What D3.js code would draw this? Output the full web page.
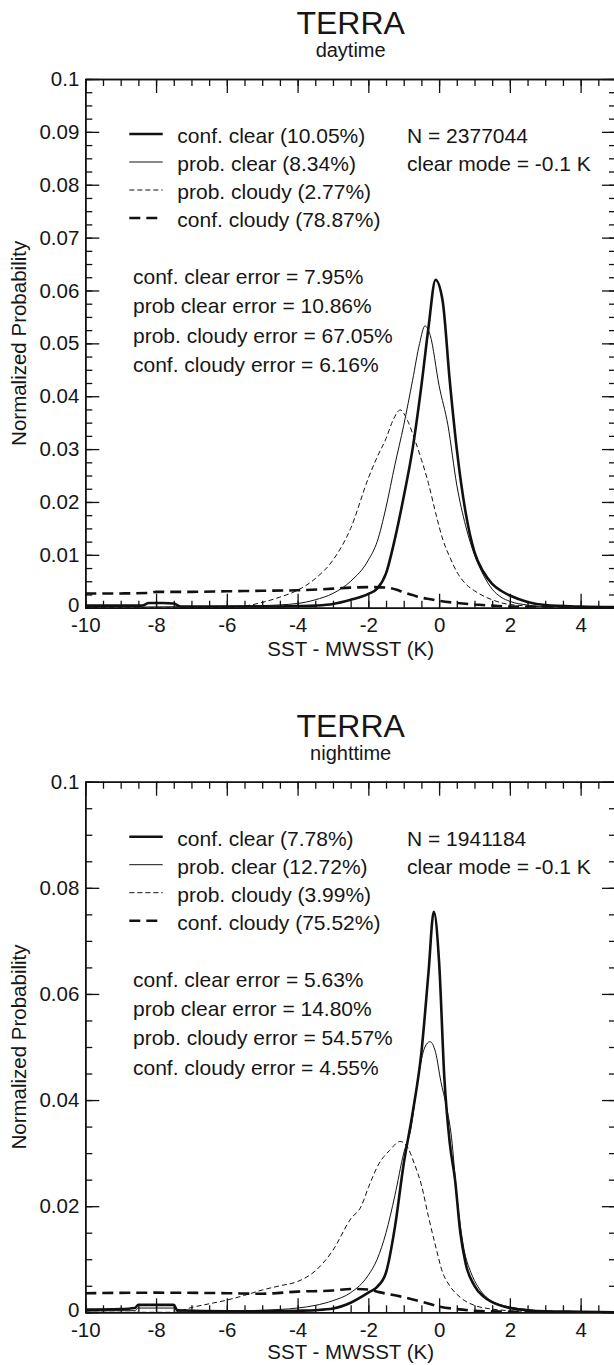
<!DOCTYPE html>
<meta charset="utf-8">
<script src="https://d3js.org/d3.v7.min.js"></script>
<style>
  body { margin: 0; background: #fff; }
  text { font-family: "Liberation Sans", Arial, Helvetica, sans-serif; fill: #161616; }
</style>
<svg id="chart" width="614" height="1365"></svg>
<script>

// ---- data ----
var xTickValues = [-10, -8, -6, -4, -2, 0, 2, 4];
var dayYTicks = [0, 0.01, 0.02, 0.03, 0.04, 0.05, 0.06, 0.07, 0.08, 0.09, 0.1];
var nightYTicks = [0, 0.02, 0.04, 0.06, 0.08, 0.1];

var seriesNames = ["conf. clear", "prob. clear", "prob. cloudy", "conf. cloudy"];
var dayShares = ["10.05%", "8.34%", "2.77%", "78.87%"];
var nightShares = ["7.78%", "12.72%", "3.99%", "75.52%"];
var errorNames = ["conf. clear error", "prob clear error", "prob. cloudy error", "conf. cloudy error"];
var dayErrors = ["7.95%", "10.86%", "67.05%", "6.16%"];
var nightErrors = ["5.63%", "14.80%", "54.57%", "4.55%"];
var dayN = "2377044", nightN = "1941184";
var dayMode = "-0.1", nightMode = "-0.1";

// daytime curves
var dayConfClearX = [-10, -9, -8.4, -8.2, -7.8, -7.5, -7.3, -6, -5, -4, -3.5, -3, -2.5, -2, -1.75, -1.5, -1.25, -1, -0.75, -0.5, -0.3, -0.1, 0.1, 0.3, 0.5, 0.75, 1, 1.25, 1.5, 1.75, 2, 2.5, 3, 4, 5];
var dayConfClearY = [0.0004, 0.0004, 0.0004, 0.0009, 0.0009, 0.0008, 0.0002, 0.0002, 0.0002, 0.0003, 0.0004, 0.0007, 0.0015, 0.0026, 0.0036, 0.0065, 0.013, 0.021, 0.030, 0.042, 0.053, 0.062, 0.058, 0.043, 0.030, 0.018, 0.0105, 0.0068, 0.0045, 0.0032, 0.0023, 0.0011, 0.0005, 0.0002, 0.0001];
var dayProbClearX = [-10, -7, -5, -4, -3.5, -3, -2.5, -2, -1.75, -1.5, -1.25, -1, -0.75, -0.55, -0.4, -0.25, 0, 0.25, 0.5, 0.75, 1, 1.25, 1.5, 1.75, 2, 2.5, 3, 4, 5];
var dayProbClearY = [0.0001, 0.0002, 0.0004, 0.0008, 0.0015, 0.0027, 0.0050, 0.0090, 0.0125, 0.0190, 0.0270, 0.0345, 0.0430, 0.0500, 0.0533, 0.0515, 0.0420, 0.0345, 0.0232, 0.0155, 0.0100, 0.0062, 0.0035, 0.0020, 0.0012, 0.0005, 0.0002, 0.0001, 0.0001];
var dayProbCloudyX = [-10, -6, -5.5, -5, -4.5, -4, -3.5, -3, -2.5, -2, -1.75, -1.5, -1.3, -1.1, -0.9, -0.7, -0.5, -0.3, -0.1, 0.1, 0.3, 0.5, 0.75, 1, 1.5, 2, 3, 5];
var dayProbCloudyY = [0, 0, 0.0003, 0.0010, 0.0020, 0.0033, 0.0055, 0.0090, 0.0150, 0.0245, 0.0285, 0.0320, 0.0355, 0.0374, 0.0355, 0.0320, 0.0280, 0.0235, 0.0180, 0.0130, 0.0096, 0.0068, 0.0045, 0.0032, 0.0015, 0.0006, 0.0002, 0];
var dayConfCloudyX = [-10, -9, -8.2, -8, -7, -6, -5, -4, -3, -2.5, -2, -1.5, -1.2, -1, -0.75, -0.5, -0.25, 0, 0.5, 1, 1.5, 2, 3, 4, 5];
var dayConfCloudyY = [0.0027, 0.0027, 0.0028, 0.0030, 0.0030, 0.0031, 0.0032, 0.0033, 0.0036, 0.0038, 0.0039, 0.0038, 0.0034, 0.0029, 0.0024, 0.0019, 0.0016, 0.0013, 0.0009, 0.0006, 0.0004, 0.0002, 0.0001, 0, 0];

// nighttime curves
var nightConfClearX = [-10, -9, -8.6, -8.5, -7.5, -7.4, -6, -5, -4, -3.5, -3, -2.5, -2, -1.75, -1.5, -1.25, -1, -0.75, -0.5, -0.3, -0.15, 0, 0.15, 0.3, 0.45, 0.6, 0.75, 1, 1.25, 1.5, 2, 2.5, 3, 4, 5];
var nightConfClearY = [0.0005, 0.0006, 0.0008, 0.0014, 0.0014, 0.0004, 0.0002, 0.0002, 0.0003, 0.0004, 0.0007, 0.0018, 0.0037, 0.0048, 0.0075, 0.016, 0.028, 0.0375, 0.049, 0.064, 0.0755, 0.066, 0.044, 0.032, 0.025, 0.015, 0.0092, 0.0050, 0.0030, 0.0019, 0.0008, 0.0004, 0.0002, 0.0001, 0];
var nightProbClearX = [-10, -9, -8.6, -8.5, -7.5, -7.4, -6, -5, -4, -3.5, -3, -2.5, -2, -1.75, -1.5, -1.25, -1, -0.8, -0.6, -0.4, -0.26, -0.1, 0.05, 0.2, 0.35, 0.5, 0.7, 0.9, 1.1, 1.4, 1.7, 2, 2.5, 3, 4, 5];
var nightProbClearY = [0.0002, 0.0003, 0.0003, 0.0008, 0.0008, 0.0002, 0.0002, 0.0004, 0.0008, 0.0013, 0.0022, 0.0037, 0.0070, 0.0100, 0.0150, 0.0220, 0.0300, 0.0345, 0.0440, 0.0500, 0.0510, 0.0490, 0.0435, 0.0390, 0.0330, 0.0220, 0.0120, 0.0075, 0.0048, 0.0025, 0.0015, 0.0010, 0.0005, 0.0002, 0.0001, 0];
var nightProbCloudyX = [-10, -7.5, -7, -6.5, -6, -5.5, -5, -4.5, -4, -3.5, -3, -2.5, -2.2, -2, -1.7, -1.4, -1.1, -0.9, -0.7, -0.5, -0.3, -0.1, 0.1, 0.3, 0.6, 1, 1.5, 2, 3, 5];
var nightProbCloudyY = [0, 0, 0.0009, 0.0016, 0.0023, 0.0032, 0.0042, 0.0050, 0.0058, 0.0078, 0.0117, 0.0176, 0.0200, 0.0235, 0.0280, 0.0305, 0.0322, 0.0312, 0.0280, 0.0240, 0.0180, 0.0125, 0.0075, 0.0050, 0.0028, 0.0013, 0.0006, 0.0003, 0.0001, 0];
var nightConfCloudyX = [-10, -8, -6, -5, -4, -3, -2.5, -2, -1.7, -1.1, -0.5, 0, 0.5, 1, 2, 5];
var nightConfCloudyY = [0.0036, 0.0037, 0.0036, 0.0035, 0.0039, 0.0041, 0.0044, 0.0043, 0.0038, 0.0030, 0.0020, 0.0011, 0.0006, 0.0003, 0.0001, 0];

// ---- layout ----
var svg = d3.select("#chart");
var left = 85.3, right = 616;

var x = d3.scaleLinear().domain([-10, 5]).range([left, right]);

var styles = [
  { width: 2.6, dash: null },
  { width: 1, dash: null },
  { width: 1, dash: "5,3" },
  { width: 2.6, dash: "11,6" }
];

function zip(xs, ys) { return xs.map(function(v, i){ return [v, ys[i]]; }); }

var panels = [
  { id: "day", top: 79, bottom: 607.7, sub: "daytime", yTicks: dayYTicks, minorStep: 0.0025,
    shares: dayShares, errors: dayErrors, n: dayN, mode: dayMode,
    curves: [zip(dayConfClearX, dayConfClearY), zip(dayProbClearX, dayProbClearY),
             zip(dayProbCloudyX, dayProbCloudyY), zip(dayConfCloudyX, dayConfCloudyY)] },
  { id: "night", top: 781.7, bottom: 1312.3, sub: "nighttime", yTicks: nightYTicks, minorStep: 0.005,
    shares: nightShares, errors: nightErrors, n: nightN, mode: nightMode,
    curves: [zip(nightConfClearX, nightConfClearY), zip(nightProbClearX, nightProbClearY),
             zip(nightProbCloudyX, nightProbCloudyY), zip(nightConfCloudyX, nightConfCloudyY)] }
];

var xMinor = d3.range(0, 31).map(function(i){ return -10 + i * 0.5; });
var fmt = function(d){ return d === 0 ? "0" : String(+d.toFixed(2)); };

panels.forEach(function(p) {
  var off = p.top - 79;
  var y = d3.scaleLinear().domain([0, 0.1]).range([p.bottom, p.top]);
  var nMinor = Math.round(0.1 / p.minorStep);
  var yMinor = d3.range(0, nMinor + 1).map(function(i){ return i * p.minorStep; });
  var g = svg.append("g");

  // titles
  g.append("text").attr("x", (left + right) / 2).attr("y", 34 + off)
    .attr("text-anchor", "middle").style("font-size", "32px").text("TERRA");
  g.append("text").attr("x", (left + right) / 2).attr("y", 57 + off)
    .attr("text-anchor", "middle").style("font-size", "20px").text(p.sub);

  // clip
  g.append("clipPath").attr("id", "clip-" + p.id)
    .append("rect").attr("x", left).attr("y", p.top)
    .attr("width", right - left).attr("height", p.bottom - p.top);

  // curves
  var line = d3.line()
    .x(function(d){ return x(d[0]); })
    .y(function(d){ return y(d[1]); })
    .curve(d3.curveMonotoneX);

  g.append("g").attr("clip-path", "url(#clip-" + p.id + ")")
    .selectAll("path")
    .data(p.curves)
    .enter()
    .append("path")
      .attr("d", line)
      .attr("fill", "none")
      .attr("stroke", "#111")
      .attr("stroke-width", function(d, i){ return styles[i].width; })
      .attr("stroke-dasharray", function(d, i){ return styles[i].dash; });

  // axes, ticks point inward on all four sides
  function styleAxis(a) {
    a.select(".domain").attr("stroke", "#111").attr("stroke-width", 1.5);
    a.selectAll(".tick line").attr("stroke", "#111").attr("stroke-width", 1.3);
    a.selectAll("text").style("font-size", "20.5px").attr("fill", "#161616")
      .style("font-family", "'Liberation Sans', Arial, sans-serif");
    return a;
  }

  styleAxis(g.append("g").attr("transform", "translate(0," + p.bottom + ")")
    .call(d3.axisBottom(x).tickValues(xMinor).tickSize(-7).tickSizeOuter(0).tickFormat("")));
  styleAxis(g.append("g").attr("transform", "translate(0," + p.bottom + ")")
    .call(d3.axisBottom(x).tickValues(xTickValues).tickSize(-14).tickSizeOuter(0).tickPadding(10)
      .tickFormat(function(d){ return String(d); })));
  styleAxis(g.append("g").attr("transform", "translate(0," + p.top + ")")
    .call(d3.axisTop(x).tickValues(xMinor).tickSize(-7).tickSizeOuter(0).tickFormat("")));
  styleAxis(g.append("g").attr("transform", "translate(0," + p.top + ")")
    .call(d3.axisTop(x).tickValues(xTickValues).tickSize(-14).tickSizeOuter(0).tickFormat("")));

  styleAxis(g.append("g").attr("transform", "translate(" + left + ",0)")
    .call(d3.axisLeft(y).tickValues(yMinor).tickSize(-7).tickSizeOuter(0).tickFormat("")));
  var yAx = styleAxis(g.append("g").attr("transform", "translate(" + left + ",0)")
    .call(d3.axisLeft(y).tickValues(p.yTicks).tickSize(-14).tickSizeOuter(0).tickPadding(6).tickFormat(fmt)));
  // the zero label sits a little higher so it clears the -10 below it
  yAx.selectAll(".tick text").filter(function(d){ return d === 0; }).attr("dy", "0.18em");
  styleAxis(g.append("g").attr("transform", "translate(" + right + ",0)")
    .call(d3.axisRight(y).tickValues(yMinor).tickSize(-7).tickSizeOuter(0).tickFormat("")));
  styleAxis(g.append("g").attr("transform", "translate(" + right + ",0)")
    .call(d3.axisRight(y).tickValues(p.yTicks).tickSize(-14).tickSizeOuter(0).tickFormat("")));

  // axis titles
  g.append("text").attr("x", (left + right) / 2).attr("y", 656 + off)
    .attr("text-anchor", "middle").style("font-size", "20.5px").text("SST - MWSST (K)");
  g.append("text")
    .attr("transform", "translate(26," + ((p.top + p.bottom) / 2) + ") rotate(-90)")
    .attr("text-anchor", "middle").style("font-size", "20.5px").text("Normalized Probability");

  // legend
  var rows = g.append("g").selectAll("g")
    .data(seriesNames)
    .enter()
    .append("g")
      .attr("transform", function(d, i){ return "translate(0," + (143 + off + i * 28) + ")"; });
  rows.append("line")
    .attr("x1", 129.3).attr("x2", 162.7).attr("y1", -9).attr("y2", -9)
    .attr("stroke", "#111")
    .attr("stroke-width", function(d, i){ return styles[i].width; })
    .attr("stroke-dasharray", function(d, i){ return styles[i].dash; });
  rows.append("text").attr("x", 177.3).attr("y", 0).style("font-size", "21px")
    .text(function(d, i){ return d + " (" + p.shares[i] + ")"; });

  g.append("text").attr("x", 407).attr("y", 143 + off).style("font-size", "21px")
    .text("N = " + p.n);
  g.append("text").attr("x", 407).attr("y", 171 + off).style("font-size", "21px")
    .text("clear mode = " + p.mode + " K");

  g.append("g").selectAll("text")
    .data(errorNames)
    .enter()
    .append("text")
      .attr("x", 133)
      .attr("y", function(d, i){ return 284 + off + i * 29.3; })
      .style("font-size", "21px")
      .text(function(d, i){ return d + " = " + p.errors[i]; });
});

</script>
